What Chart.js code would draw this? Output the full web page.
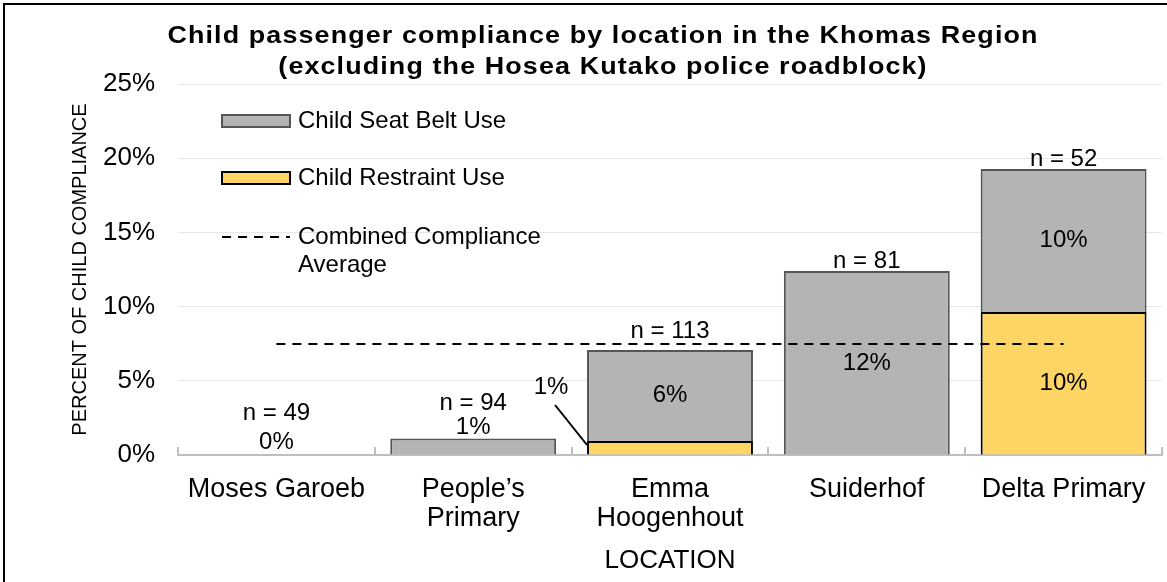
<!DOCTYPE html>
<html>
<head>
<meta charset="utf-8">
<script src="https://cdn.jsdelivr.net/npm/chart.js@4.4.1/dist/chart.umd.min.js"></script>
<style>
  html, body { margin: 0; padding: 0; background: #fff; }
  #wrap { position: relative; width: 1167px; height: 582px; }
</style>
</head>
<body>
<div id="wrap"><canvas id="chart"></canvas></div>
<script>
const locations = ["Moses Garoeb", ["People’s", "Primary"], ["Emma", "Hoogenhout"], "Suiderhof", "Delta Primary"];
const restraintUse = [0, 0, 0.94, 0, 9.64];
const seatBeltUse = [0, 1.12, 6.13, 12.4, 9.63];
const combinedAverage = [7.48, 7.48, 7.48, 7.48, 7.48];
const sampleSizes = [49, 94, 113, 81, 52];
const titleLines = [
  "Child passenger compliance by location in the Khomas Region",
  "(excluding the Hosea Kutako police roadblock)"
];

const FONT = '"Liberation Sans", Arial, sans-serif';
Chart.defaults.font.family = FONT;
Chart.defaults.color = "#000";

const pct = v => Math.round(v) + "%";

// title + frame
const titlePlugin = {
  id: "titleFrame",
  beforeDraw(chart) {
    const ctx = chart.ctx;
    ctx.save();
    ctx.fillStyle = "#fff";
    ctx.fillRect(0, 0, chart.width, chart.height);
    ctx.fillStyle = "#000";
    ctx.fillRect(3, 3, 2, chart.height);
    ctx.fillRect(3, 3, chart.width, 2);
    ctx.font = "bold 24px " + FONT;
    ctx.letterSpacing = "1px";
    ctx.textAlign = "center";
    ctx.textBaseline = "middle";
    titleLines.forEach((t, i) => {
      ctx.save();
      ctx.translate(603, 36 + i * 31);
      ctx.scale(1.12, 1); // reference title is a bit wide
      ctx.fillText(t, 0, 0);
      ctx.restore();
    });
    ctx.restore();
  }
};

// little upward ticks between categories
const axisTicks = {
  id: "axisTicks",
  afterDatasetsDraw(chart) {
    const xs = chart.scales.x;
    const ctx = chart.ctx;
    const n = locations.length;
    ctx.save();
    ctx.strokeStyle = "#bfbfbf";
    ctx.lineWidth = 2;
    for (let i = 0; i <= n; i++) {
      const x = Math.round(xs.left + i * xs.width / n);
      ctx.beginPath();
      ctx.moveTo(x, xs.top);
      ctx.lineTo(x, xs.top - 8);
      ctx.stroke();
    }
    ctx.restore();
  }
};

// custom legend inside the plot
const legendPlugin = {
  id: "insideLegend",
  afterDraw(chart) {
    const ctx = chart.ctx;
    const area = chart.chartArea;
    const ds = chart.data.datasets;
    const x0 = area.left + 44;
    const rows = [
      { d: ds[1], y: area.top + 37 },
      { d: ds[0], y: area.top + 94 },
      { d: ds[2], y: area.top + 153 }
    ];
    ctx.save();
    ctx.font = "24px " + FONT;
    ctx.textBaseline = "middle";
    ctx.textAlign = "left";
    ctx.fillStyle = "#000";
    rows.forEach(r => {
      if (r.d.type === "line") {
        ctx.strokeStyle = r.d.borderColor;
        ctx.lineWidth = 2;
        ctx.setLineDash([9, 7]);
        ctx.beginPath();
        ctx.moveTo(x0, r.y);
        ctx.lineTo(x0 + 68, r.y);
        ctx.stroke();
        ctx.setLineDash([]);
      } else {
        ctx.fillStyle = r.d.backgroundColor;
        ctx.fillRect(x0, r.y - 6, 68, 12);
        ctx.strokeStyle = r.d.borderColor;
        ctx.lineWidth = 2;
        ctx.strokeRect(x0, r.y - 6, 68, 12);
      }
      ctx.fillStyle = "#000";
      const words = r.d.label.split(" ");
      let lines = [], cur = "";
      words.forEach(w => {
        const t = cur ? cur + " " + w : w;
        if (ctx.measureText(t).width > 250 && cur) { lines.push(cur); cur = w; }
        else cur = t;
      });
      lines.push(cur);
      lines.forEach((l, i) => ctx.fillText(l, x0 + 76, r.y + i * 28));
    });
    ctx.restore();
  }
};

// value labels and sample sizes
const labelPlugin = {
  id: "valueLabels",
  afterDatasetsDraw(chart) {
    const ctx = chart.ctx;
    const ys = chart.scales.y;
    const base = ys.getPixelForValue(0);
    const bars = chart.getDatasetMeta(0).data;
    const avgY = ys.getPixelForValue(combinedAverage[0]);
    ctx.save();
    ctx.font = "24px " + FONT;
    ctx.textAlign = "center";
    ctx.textBaseline = "middle";
    ctx.fillStyle = "#000";
    locations.forEach((_, i) => {
      const bar = bars[i];
      const x = bar.x;
      const left = x - bar.width / 2;
      const r = restraintUse[i], s = seatBeltUse[i];
      const rTop = ys.getPixelForValue(r);
      let top = ys.getPixelForValue(r + s);
      if (r > 0) {
        if (base - rTop >= 30) {
          ctx.fillText(pct(r), x, (base + rTop) / 2);
        } else {
          ctx.strokeStyle = "#000";
          ctx.lineWidth = 2;
          ctx.beginPath();
          ctx.moveTo(left - 32, base - 50);
          ctx.lineTo(left, base - 10);
          ctx.stroke();
          ctx.fillText(pct(r), left - 36, base - 68);
        }
      }
      if (s > 0) {
        if (rTop - top >= 30) {
          ctx.fillText(pct(s), x, (rTop + top) / 2);
        } else {
          ctx.fillText(pct(s), x, top - 11);
          top -= 25;
        }
      }
      if (r + s === 0) {
        ctx.fillText(pct(0), x, base - 13);
        top -= 32;
      }
      let ny = top - 10;
      // keep the n label clear of the average line
      if (Math.abs(ny - avgY) < 10) ny = avgY - 13;
      ctx.fillText("n = " + sampleSizes[i], x, ny);
    });
    ctx.restore();
  }
};

new Chart(document.getElementById("chart"), {
  type: "bar",
  data: {
    labels: locations,
    datasets: [
      {
        label: "Child Restraint Use",
        data: restraintUse,
        backgroundColor: "#fdd565",
        borderColor: "#000",
        borderWidth: c => (c.raw ? 2 : 0),
        order: 2
      },
      {
        label: "Child Seat Belt Use",
        data: seatBeltUse,
        backgroundColor: "#b4b4b4",
        borderColor: "#555",
        borderWidth: c => (c.raw ? 2 : 0),
        order: 2
      },
      {
        type: "line",
        label: "Combined Compliance Average",
        data: combinedAverage,
        borderColor: "#000",
        borderWidth: 2,
        borderDash: [9, 7],
        pointRadius: 0,
        fill: false,
        order: 1
      }
    ]
  },
  options: {
    responsive: true,
    maintainAspectRatio: false,
    animation: false,
    datasets: { bar: { categoryPercentage: 1, barPercentage: 0.843 } },
    layout: { padding: { top: 84, right: 5, left: 0, bottom: 0 } },
    plugins: {
      legend: { display: false },
      title: { display: false },
      tooltip: { enabled: false }
    },
    scales: {
      x: {
        stacked: true,
        grid: { display: false, drawTicks: false },
        border: { display: true, color: "#bfbfbf", width: 2 },
        ticks: { font: { size: 27, lineHeight: 1.08 }, padding: 20, maxRotation: 0, autoSkip: false },
        title: { display: true, text: "LOCATION", font: { size: 26 }, padding: { top: 0, bottom: 6 } },
        afterFit: s => { s.height = 127; }
      },
      y: {
        stacked: true,
        min: 0,
        max: 25,
        ticks: { stepSize: 5, callback: v => v + "%", font: { size: 26 }, padding: 23 },
        grid: { color: "#e6e6e6", lineWidth: 1, drawTicks: false },
        border: { display: false },
        title: { display: true, text: "PERCENT OF CHILD COMPLIANCE", font: { size: 20 }, padding: { top: 68, bottom: 0 } },
        afterFit: s => { s.width = 178; }
      }
    }
  },
  plugins: [titlePlugin, axisTicks, legendPlugin, labelPlugin]
});
</script>
</body>
</html>
